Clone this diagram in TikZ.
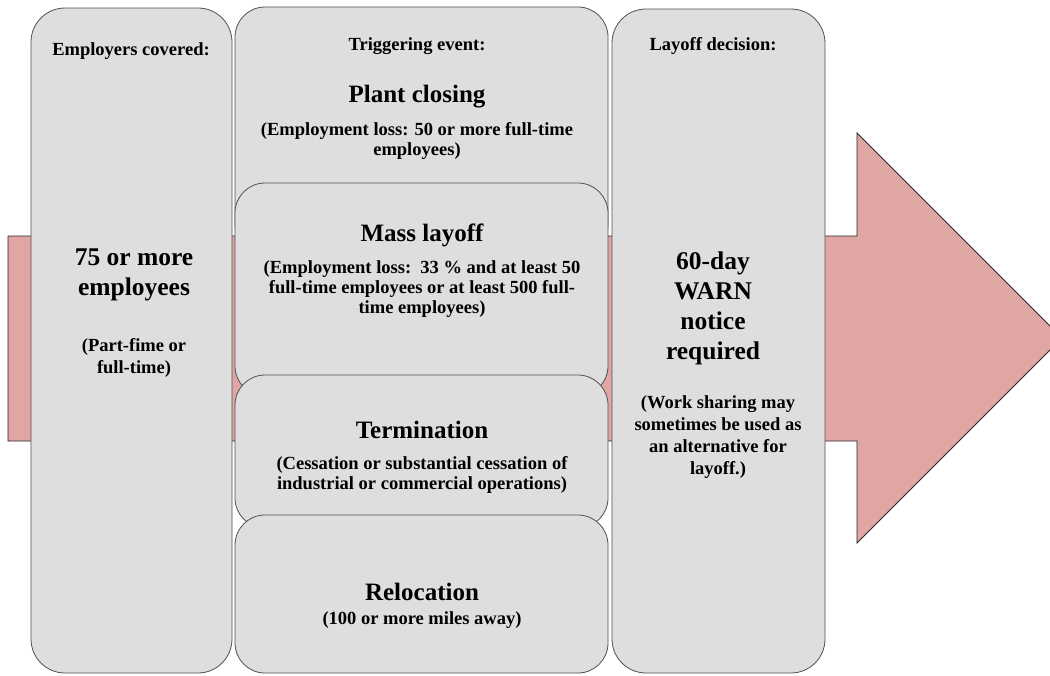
\documentclass[tikz,border=0pt]{standalone}
\usepackage{fontspec}
\setmainfont{Liberation Serif}
\definecolor{boxfill}{RGB}{222,222,222}
\definecolor{boxline}{RGB}{80,80,80}
\definecolor{arrowfill}{RGB}{223,166,163}
\begin{document}
\begin{tikzpicture}[x=1pt,y=-1pt,
  box/.style={draw=boxline,fill=boxfill,line width=0.8pt,rounded corners=30pt},
  head/.style={font=\fontsize{18.5}{22}\selectfont\bfseries,align=center},
  big/.style={font=\fontsize{25.5}{30}\selectfont\bfseries,align=center},
  mid/.style={font=\fontsize{25}{30}\selectfont\bfseries,align=center},
  small/.style={font=\fontsize{18.5}{20}\selectfont\bfseries,align=center},
  sidesmall/.style={font=\fontsize{18.5}{22}\selectfont\bfseries,align=center}]
\useasboundingbox (0,0) rectangle (1050,675);
\clip (0,0) rectangle (1050,675);
% big arrow
\draw[fill=arrowfill,draw=black!85,line width=0.8pt]
  (8,236) -- (857,236) -- (857,133) -- (1062,338) -- (857,543) -- (857,441) -- (8,441) -- cycle;
% left column
\draw[box,rounded corners=34pt] (31,8) rectangle (232,673);
% middle column
\draw[box] (235,7) rectangle (608,255);
\draw[box] (235,183) rectangle (608,396);
\draw[box] (235,375) rectangle (608,528);
\draw[box] (235,515) rectangle (608,673);
% right column
\draw[box,rounded corners=34pt] (612,9) rectangle (825,673);
% texts
\node[head] (t1) at (131,51) {Employers covered:};
\node[big] (t2) at (134,275) {75 or more\\employees};
\node[sidesmall] (t3) at (134,358) {(Part-fime or\\full-time)};
\node[head] (t4) at (417,46) {Triggering event:};
\node[mid] (t5) at (417,97) {Plant closing};
\node[small] (t6) at (417,141) {(Employment loss: 50 or more full-time\\employees)};
\node[mid] (t7) at (422,235) {Mass layoff};
\node[small] (t8) at (422,289) {(Employment loss:\ \ 33 \% and at least 50\\full-time employees or at least 500 full-\\time employees)};
\node[mid] (t9) at (422,430) {Termination};
\node[small] (t10) at (422,475) {(Cessation or substantial cessation of\\industrial or commercial operations)};
\node[mid] (t11) at (422,592) {Relocation};
\node[small] (t12) at (422,620) {(100 or more miles away)};
\node[head] (t13) at (713,46) {Layoff decision:};
\node[big] (t14) at (713,308) {60-day\\WARN\\notice\\required};
\node[sidesmall] (t15) at (718,437) {(Work sharing may\\sometimes be used as\\an alternative for\\layoff.)};
\end{tikzpicture}
\end{document}
